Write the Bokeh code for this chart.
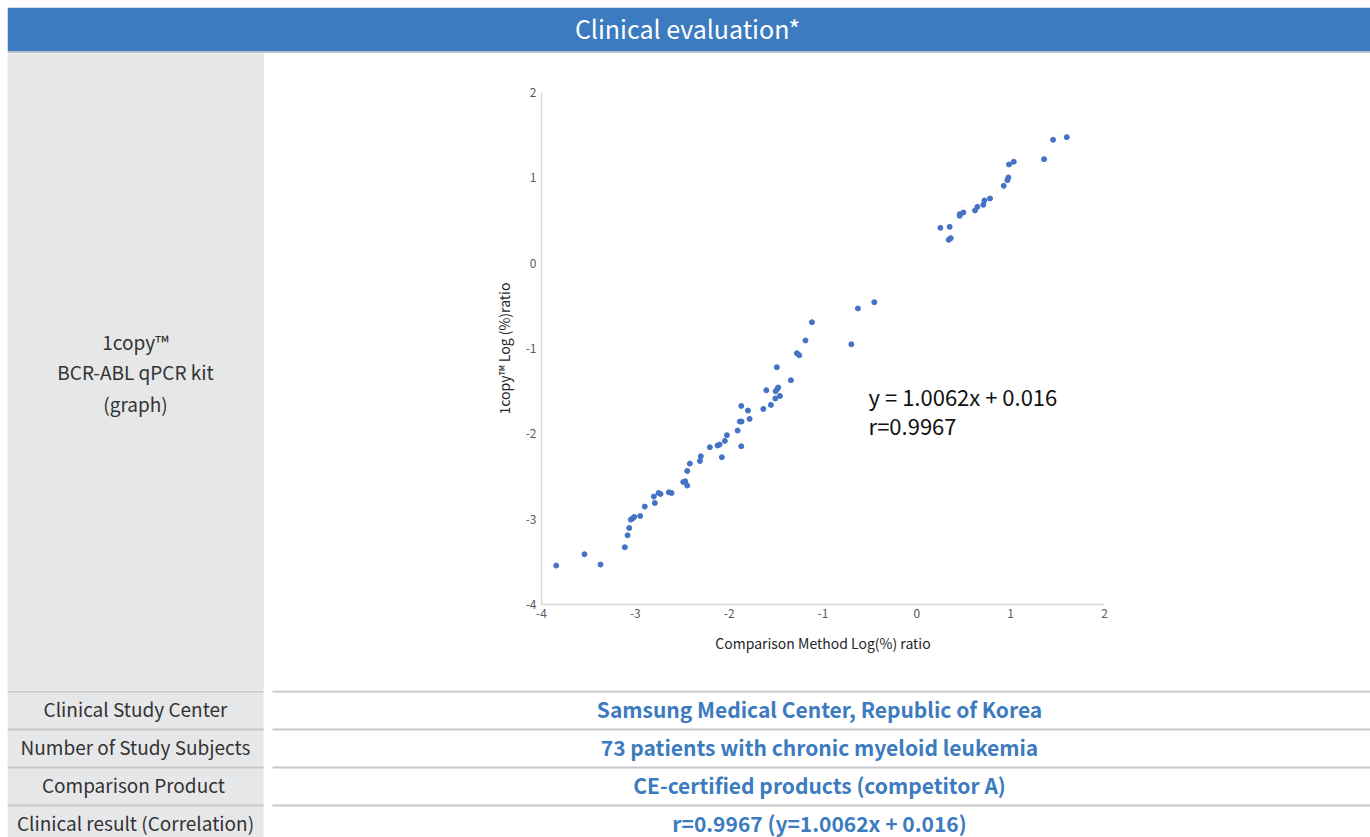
from bokeh.plotting import figure
from bokeh.layouts import column, row
from bokeh.models import Range1d, Label, FixedTicker, Spacer, PrintfTickFormatter
from bokeh.embed import file_html
from bokeh.resources import INLINE

FONT = "Noto Sans CJK KR"

# ---------------- data ----------------
comparison_log = [
    -3.843, -3.542, -3.371, -3.112, -3.083, -3.065, -3.048, -3.030, -3.012, -2.948,
    -2.899, -2.803, -2.792, -2.753, -2.731, -2.643, -2.614, -2.489, -2.468, -2.447,
    -2.447, -2.419, -2.312, -2.302, -2.206, -2.124, -2.102, -2.078, -2.046, -2.024,
    -1.910, -1.886, -1.868, -1.871, -1.871, -1.800, -1.782, -1.636, -1.604, -1.555,
    -1.508, -1.505, -1.487, -1.477, -1.459, -1.492, -1.342, -1.278, -1.253, -1.187,
    -1.118, -0.698, -0.628, -0.453, 0.251, 0.350, 0.339, 0.361, 0.457, 0.457,
    0.496, 0.620, 0.645, 0.709, 0.720, 0.780, 0.926, 0.965, 0.976, 0.983,
    1.033, 1.356, 1.452, 1.598,
]
kit_log = [
    -3.544, -3.411, -3.532, -3.329, -3.189, -3.103, -3.005, -2.993, -2.974, -2.962,
    -2.853, -2.735, -2.810, -2.693, -2.705, -2.685, -2.693, -2.564, -2.556, -2.606,
    -2.435, -2.349, -2.318, -2.263, -2.157, -2.137, -2.126, -2.274, -2.083, -2.016,
    -1.962, -1.856, -1.856, -1.673, -2.145, -1.727, -1.825, -1.708, -1.489, -1.661,
    -1.586, -1.501, -1.473, -1.457, -1.556, -1.219, -1.372, -1.055, -1.079, -0.906,
    -0.692, -0.950, -0.531, -0.457, 0.414, 0.426, 0.274, 0.293, 0.574, 0.555,
    0.594, 0.618, 0.660, 0.684, 0.735, 0.758, 0.906, 0.973, 1.005, 1.157,
    1.188, 1.219, 1.446, 1.477,
]
x_ticks = [-4, -3, -2, -1, 0, 1, 2]
y_ticks = [-4, -3, -2, -1, 0, 1, 2]

title_text = "Clinical evaluation*"
kit_lines = ["1copy™", "BCR-ABL qPCR kit", "(graph)"]
x_axis_title = "Comparison Method Log(%) ratio"
y_axis_title = "1copy™ Log (%)ratio"
equation_lines = ["y = 1.0062x + 0.016", "r=0.9967"]
row_labels = ["Clinical Study Center", "Number of Study Subjects",
              "Comparison  Product", "Clinical result (Correlation)"]
row_values = ["Samsung Medical Center, Republic of Korea",
              "73 patients with chronic myeloid leukemia",
              "CE-certified products (competitor A)",
              "r=0.9967 (y=1.0062x + 0.016)"]

# ---------------- styles / layout ----------------
OFF = 7            # outer white margin (left/top)
W = 1370 - OFF     # inner width
HEADER_H = 46
MID_H = 637
TABLE_H = 837 - OFF - HEADER_H - MID_H
LEFT_W = 257
BLUE = "#3c7bc0"
GRAY = "#e6e7e9"
LINE = "#c6c7c9"
DARK = "#333333"


def blank(w, h, bg="white"):
    f = figure(width=w, height=h, x_range=Range1d(0, w), y_range=Range1d(h, 0),
               x_axis_type=None, y_axis_type=None, output_backend="svg",
               toolbar_location=None, min_border=0)
    f.grid.visible = False
    f.outline_line_color = None
    f.background_fill_color = bg
    f.border_fill_color = bg
    return f


# header
header = blank(W, HEADER_H)
header.quad(left=0, right=W, top=0, bottom=44, fill_color=BLUE, line_color=None)
header.quad(left=0, right=W, top=44, bottom=46, fill_color="#bfc2c6", line_color=None)
header.add_layout(Label(x=680, y=20, text=title_text, text_align="center",
                        text_baseline="middle", text_color="white",
                        text_font=FONT, text_font_size="25px"))

# scatter
p = figure(width=W - LEFT_W, height=MID_H, x_range=Range1d(-4, 2), y_range=Range1d(-4, 2),
           output_backend="svg", toolbar_location=None,
           min_border_left=277, min_border_right=W - LEFT_W - 277 - 563,
           min_border_top=39, min_border_bottom=86)
p.grid.visible = False
p.outline_line_color = None
p.scatter(comparison_log, kit_log, size=5, color="#4472c4", line_color="#4472c4")
p.xaxis.ticker = FixedTicker(ticks=x_ticks)
p.yaxis.ticker = FixedTicker(ticks=y_ticks)
for ax in (p.xaxis, p.yaxis):
    ax.formatter = PrintfTickFormatter(format="%d")
    ax.major_tick_line_color = None
    ax.minor_tick_line_color = None
    ax.major_tick_out = 0
    ax.major_tick_in = 0
    ax.minor_tick_out = 0
    ax.minor_tick_in = 0
    ax.axis_line_color = "#d9d9d9"
    ax.axis_line_width = 1.5
    ax.major_label_text_font = FONT
    ax.major_label_text_font_size = "12px"
    ax.major_label_text_color = "#595959"
    ax.axis_label_text_font = FONT
    ax.axis_label_text_font_size = "14px"
    ax.axis_label_text_font_style = "normal"
    ax.axis_label_text_color = "#262626"
p.xaxis.major_label_standoff = 4
p.yaxis.major_label_standoff = 5
p.xaxis.axis_label_standoff = 12
p.yaxis.axis_label_standoff = 9
p.xaxis.axis_label = x_axis_title
p.yaxis.axis_label = y_axis_title
for i, t in enumerate(equation_lines):
    p.add_layout(Label(x=-0.514, y=-1.559 - 0.34 * i, text=t, text_align="left",
                       text_baseline="middle", text_color="#111111",
                       text_font=FONT, text_font_size="22px"))

# left gray column (middle)
left = blank(LEFT_W, MID_H, GRAY)
for i, t in enumerate(kit_lines):
    left.add_layout(Label(x=128, y=[288, 318, 350][i], text=t, text_align="center",
                          text_baseline="middle", text_color=DARK,
                          text_font=FONT, text_font_size="19px"))

# table
table = blank(W, TABLE_H)
table.quad(left=0, right=256, top=0, bottom=TABLE_H, fill_color=GRAY, line_color=None)
sep_y = [1 + 38 * i for i in range(len(row_labels))]
table.segment(x0=[0] * len(sep_y), x1=[256] * len(sep_y), y0=sep_y, y1=sep_y,
              line_color=LINE, line_width=2)
table.segment(x0=[265] * len(sep_y), x1=[W] * len(sep_y), y0=sep_y, y1=sep_y,
              line_color=LINE, line_width=2)
for i, (lab, val) in enumerate(zip(row_labels, row_values)):
    yc = 18 + 38 * i
    table.add_layout(Label(x=128, y=yc, text=lab, text_align="center",
                           text_baseline="middle", text_color=DARK,
                           text_font=FONT, text_font_size="19px"))
    table.add_layout(Label(x=812, y=yc, text=val, text_align="center",
                           text_baseline="middle", text_color=BLUE,
                           text_font=FONT, text_font_size="21px",
                           text_font_style="bold"))

inner = column(header, row(column(left), p, spacing=0), table, spacing=0)
layout = column(Spacer(width=1370, height=OFF),
                row(Spacer(width=OFF, height=837 - OFF), inner, spacing=0),
                spacing=0)
open("out.html", "w").write(file_html(layout, INLINE))
